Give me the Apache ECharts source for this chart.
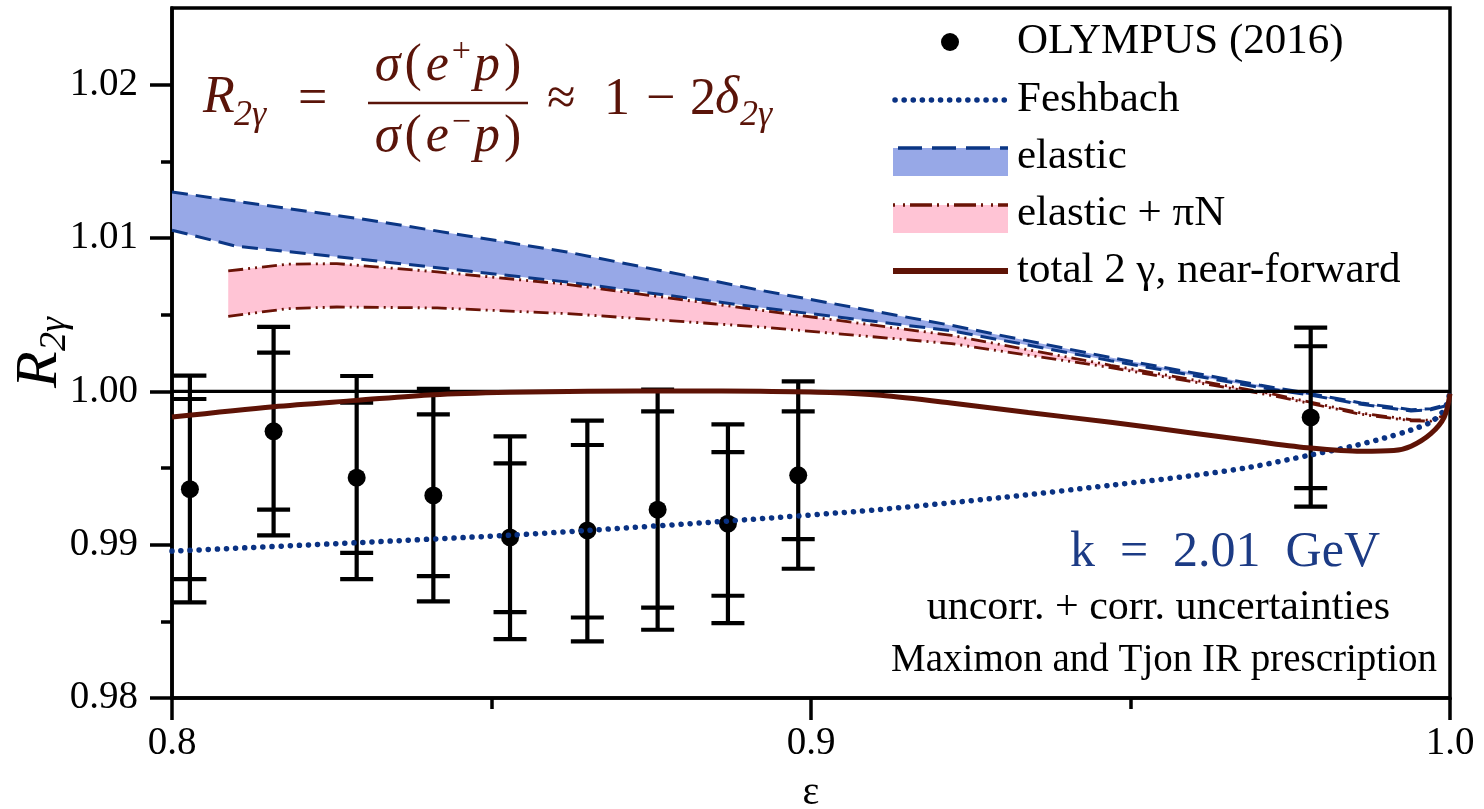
<!DOCTYPE html>
<html><head><meta charset="utf-8">
<script src="https://cdn.jsdelivr.net/npm/echarts@6/dist/echarts.min.js"></script>
<style>html,body{margin:0;padding:0;background:#fff}#c{width:1484px;height:809px}</style>
</head><body><div id="c"></div>
<script>
// ---------- data ----------
const xTicks = [0.8, 0.9, 1.0];
const yTicks = [0.98, 0.99, 1.00, 1.01, 1.02];
const yMinorTicks = [0.985, 0.995, 1.005, 1.015];
const refLevel = 1.0;

// OLYMPUS (2016) points
const olyEps     = [0.8028, 0.8159, 0.8289, 0.8409, 0.8529, 0.8650, 0.8760, 0.8870, 0.8980, 0.9782];
const olyR       = [0.99362, 0.99739, 0.99437, 0.99321, 0.99047, 0.99093, 0.99228, 0.99137, 0.99452, 0.99830];
const olyInnerLo = [0.98775, 0.99228, 0.98947, 0.98795, 0.98560, 0.98525, 0.98589, 0.98667, 0.99036, 0.99369];
const olyInnerHi = [0.99950, 1.00252, 0.99926, 0.99850, 0.99530, 0.99650, 0.99869, 0.99604, 0.99869, 1.00294];
const olyOuterLo = [0.98623, 0.99060, 0.98775, 0.98630, 0.98384, 0.98369, 0.98445, 0.98488, 0.98843, 0.99248];
const olyOuterHi = [1.00102, 1.00420, 1.00100, 1.00017, 0.99706, 0.99809, 1.00011, 0.99785, 1.00065, 1.00416];

// Feshbach
const feshEps = [0.800, 0.8289, 0.8529, 0.8650, 0.8870, 0.9109, 0.930, 0.947, 0.9600, 0.9688, 0.9782, 0.9845, 0.9897, 0.9939, 0.9970, 0.9991, 1.000];
const feshR   = [0.98958, 0.99013, 0.99062, 0.99093, 0.99154, 0.99230, 0.99308, 0.99388, 0.99452, 0.99506, 0.99585, 0.99640, 0.99695, 0.99748, 0.99800, 0.99880, 0.99995];

// elastic band
const elEps   = [0.800, 0.8101, 0.831, 0.8618, 0.8921, 0.922, 0.9469, 0.9704, 0.9782, 0.9861, 0.9939, 0.997, 0.9991, 1.000];
const elUpper = [1.01300, 1.01240, 1.01116, 1.00909, 1.00659, 1.00430, 1.00220, 1.00039, 0.99985, 0.99924, 0.99880, 0.99887, 0.99909, 0.99940];
const elLower = [1.01051, 1.00946, 1.00855, 1.00713, 1.00546, 1.00395, 1.00200, 1.00024, 0.99975, 0.99915, 0.99872, 0.99880, 0.99903, 0.99938];

// elastic + piN band
const pnEps   = [0.8088, 0.818, 0.8258, 0.8415, 0.8618, 0.8921, 0.922, 0.9469, 0.972, 0.9861, 0.9939, 0.997, 0.9991, 1.000];
const pnUpper = [1.00785, 1.00829, 1.00833, 1.00779, 1.00698, 1.00529, 1.00365, 1.00170, 0.99985, 0.99858, 0.99815, 0.99811, 0.99843, 0.99940];
const pnLower = [1.00489, 1.00539, 1.00550, 1.00544, 1.00507, 1.00420, 1.00311, 1.00155, 0.99974, 0.99850, 0.99808, 0.99806, 0.99840, 0.99938];

// total 2 gamma, near-forward
const totEps = [0.800, 0.8159, 0.8289, 0.8409, 0.8529, 0.8650, 0.8800, 0.8921, 0.9030, 0.9109, 0.9219, 0.9340, 0.9469, 0.9590, 0.9704, 0.9782, 0.9861, 0.9912, 0.9939, 0.9970, 0.9991, 1.000];
const totR   = [0.99832, 0.99900, 0.99941, 0.99978, 0.99994, 1.00000, 1.00002, 1.00000, 0.99992, 0.99974, 0.99924, 0.99862, 0.99798, 0.99732, 0.99669, 0.99630, 0.99609, 0.99614, 0.99642, 0.99724, 0.99832, 0.99985];

// ---------- style ----------
const SERIF = "'Liberation Serif','Times New Roman',serif";
const NAVY = '#0b3684';
const DOTBLUE = '#0a3283';
const DRED = '#6a1306';
const TOTRED = '#5e1306';
const BLUEFILL = '#97a8e7';
const PINKFILL = '#ffc4d5';
const FORMULA = '#5a1409';
const KBLUE = '#1c3b85';
const AXW = 3.5;

const zip = (a, b) => a.map((v, i) => [v, b[i]]);

function band(eps, lo, hi, color, z) {
  return {
    type: 'custom', z: z, silent: true, clip: true,
    data: eps.map((e, i) => [e, lo[i], hi[i]]),
    encode: { x: 0, y: [1, 2] },
    renderItem: function (params, api) {
      if (params.dataIndex !== 0) return null;
      const pts = [];
      for (let i = 0; i < eps.length; i++) pts.push(api.coord([eps[i], hi[i]]));
      for (let i = eps.length - 1; i >= 0; i--) pts.push(api.coord([eps[i], lo[i]]));
      return { type: 'polygon', shape: { points: pts }, style: { fill: color } };
    }
  };
}
function edge(eps, vals, color, dash, width, z) {
  return {
    type: 'line', z: z, silent: true, symbol: 'none', smooth: false,
    data: zip(eps, vals),
    lineStyle: { color: color, width: width, type: dash, cap: 'butt' }
  };
}

const chart = echarts.init(document.getElementById('c'), null, { renderer: 'canvas' });

function ftxt(x, y, text, opts) {
  return { type: 'text', x: x, y: y, style: Object.assign({ text: text, fontFamily: SERIF, fontSize: 52, fill: FORMULA, align: 'left', verticalAlign: 'middle' }, opts || {}) };
}
const fracRich = {
  i: { fontFamily: SERIF, fontStyle: 'italic', fontSize: 52, lineHeight: 62, fill: FORMULA, padding: [0, 2, 0, 2] },
  u: { fontFamily: SERIF, fontSize: 52, lineHeight: 62, fill: FORMULA, padding: [0, 2, 0, 2] },
  sup: { fontFamily: SERIF, fontSize: 34, lineHeight: 34, verticalAlign: 'top', fill: FORMULA, padding: [0, 1, 0, 1] }
};

const legendX0 = 893, legendX1 = 1008, legendTextX = 1017;
const rows = [42, 100, 157, 214, 271];
const legendFont = { fontFamily: SERIF, fontSize: 43, fill: '#000', verticalAlign: 'middle', align: 'left' };

const graphics = [
  // legend
  { type: 'circle', shape: { cx: 950, cy: rows[0], r: 9 }, style: { fill: '#000' } },
  { type: 'text', x: legendTextX, y: rows[0], style: Object.assign({ text: 'OLYMPUS (2016)' }, legendFont) },
  { type: 'line', shape: { x1: legendX0 + 2, y1: rows[1], x2: legendX1, y2: rows[1] }, style: { stroke: DOTBLUE, lineWidth: 5.5, lineDash: [0.1, 9], lineCap: 'round' } },
  { type: 'text', x: legendTextX, y: rows[1], style: Object.assign({ text: 'Feshbach' }, legendFont) },
  { type: 'rect', shape: { x: legendX0, y: rows[2] - 9, width: legendX1 - legendX0, height: 28 }, style: { fill: BLUEFILL } },
  { type: 'line', shape: { x1: legendX0 + 5, y1: rows[2] - 9, x2: legendX1, y2: rows[2] - 9 }, style: { stroke: NAVY, lineWidth: 3.5, lineDash: [24, 10] } },
  { type: 'text', x: legendTextX, y: rows[2], style: Object.assign({ text: 'elastic' }, legendFont) },
  { type: 'rect', shape: { x: legendX0, y: rows[3] - 9, width: legendX1 - legendX0, height: 28 }, style: { fill: PINKFILL } },
  { type: 'line', shape: { x1: legendX0, y1: rows[3] - 9, x2: legendX1, y2: rows[3] - 9 }, style: { stroke: DRED, lineWidth: 3.5, lineDash: [2, 8, 2, 5, 22, 5] } },
  { type: 'text', x: legendTextX, y: rows[3], style: Object.assign({ text: 'elastic + \u03c0N' }, legendFont) },
  { type: 'line', shape: { x1: legendX0, y1: rows[4], x2: legendX1, y2: rows[4] }, style: { stroke: TOTRED, lineWidth: 6 } },
  { type: 'text', x: legendTextX, y: rows[4], style: Object.assign({ text: 'total 2 \u03b3, near-forward' }, legendFont) },

  // formula  R_{2γ} = σ(e+p)/σ(e−p) ≈ 1 − 2δ_{2γ}
  ftxt(203, 98, 'R', { fontStyle: 'italic' }),
  ftxt(234, 116, '2\u03b3', { fontStyle: 'italic', fontSize: 36 }),
  ftxt(298, 100, '='),
  { type: 'text', x: 448, y: 66, style: { text: '{i|\u03c3}{u|(}{i|e}{sup|+}{i|p}{u|)}', rich: fracRich, align: 'center', verticalAlign: 'middle' } },
  { type: 'line', shape: { x1: 368, y1: 103, x2: 528, y2: 103 }, style: { stroke: FORMULA, lineWidth: 2.5 } },
  { type: 'text', x: 448, y: 137, style: { text: '{i|\u03c3}{u|(}{i|e}{sup|\u2212}{i|p}{u|)}', rich: fracRich, align: 'center', verticalAlign: 'middle' } },
  ftxt(547, 100, '\u2248'),
  ftxt(604, 100, '1'),
  ftxt(646, 100, '\u2212'),
  ftxt(690, 100, '2'),
  ftxt(715, 98, '\u03b4', { fontStyle: 'italic' }),
  ftxt(740, 116, '2\u03b3', { fontStyle: 'italic', fontSize: 36 }),

  // annotations
  { type: 'text', x: 1380, y: 553, style: { text: 'k\u2002=\u20022.01\u2002GeV', fontFamily: SERIF, fontSize: 50, fill: KBLUE, align: 'right', verticalAlign: 'middle' } },
  { type: 'text', x: 1390, y: 608, style: { text: 'uncorr. + corr. uncertainties', fontFamily: SERIF, fontSize: 42, fill: '#000', align: 'right', verticalAlign: 'middle' } },
  { type: 'text', x: 1437, y: 661, style: { text: 'Maximon and Tjon IR prescription', fontFamily: SERIF, fontSize: 39, fill: '#000', align: 'right', verticalAlign: 'middle' } },

  // y axis name R_{2gamma}
  { type: 'group', x: 40, y: 356, rotation: Math.PI / 2, children: [
    { type: 'text', x: -32, y: 0, style: { text: 'R', fontFamily: SERIF, fontStyle: 'italic', fontSize: 60, fill: '#000', align: 'left', verticalAlign: 'middle' } },
    { type: 'text', x: 5, y: 15, style: { text: '2\u03b3', fontFamily: SERIF, fontStyle: 'italic', fontSize: 38, fill: '#000', align: 'left', verticalAlign: 'middle' } }
  ] }
];

const option = {
  animation: false,
  backgroundColor: '#fff',
  grid: { left: 172, right: 34, top: 8, bottom: 111, containLabel: false, outerBoundsMode: 'none', show: true, borderColor: '#000', borderWidth: AXW, backgroundColor: 'transparent' },
  xAxis: {
    type: 'value', min: 0.8, max: 1.0, interval: 0.1,
    name: '\u03b5', nameLocation: 'middle', nameGap: 75,
    nameTextStyle: { fontFamily: SERIF, fontSize: 40, color: '#000' },
    axisLine: { show: true, onZero: false, lineStyle: { color: '#000', width: AXW } },
    axisTick: { show: true, length: 22, lineStyle: { color: '#000', width: AXW } },
    minorTick: { show: true, splitNumber: 2, length: 11, lineStyle: { color: '#000', width: AXW } },
    axisLabel: { fontFamily: SERIF, fontSize: 39, color: '#000', margin: 26, formatter: v => v.toFixed(1) },
    splitLine: { show: false }, minorSplitLine: { show: false }
  },
  yAxis: [{
    type: 'value', min: 0.98, max: 1.025, interval: 0.01,
    axisLine: { show: true, onZero: false, lineStyle: { color: '#000', width: AXW } },
    axisTick: { show: true, length: 22, lineStyle: { color: '#000', width: AXW }, customValues: yTicks },
    axisLabel: { fontFamily: SERIF, fontSize: 39, color: '#000', margin: 34, customValues: yTicks, formatter: v => v.toFixed(2) },
    splitLine: { show: false }
  }, {
    type: 'value', min: 0.98, max: 1.025, position: 'left', offset: 0,
    axisLine: { show: false },
    axisTick: { show: true, length: 11, lineStyle: { color: '#000', width: AXW }, customValues: yMinorTicks },
    axisLabel: { show: false },
    splitLine: { show: false }
  }],
  series: [
    band(elEps, elLower, elUpper, BLUEFILL, 1),
    band(pnEps, pnLower, pnUpper, PINKFILL, 1),
    edge(elEps, elUpper, NAVY, [16, 8], 3, 2),
    edge(elEps, elLower, NAVY, [16, 8], 3, 2),
    edge(pnEps, pnUpper, DRED, [15, 5, 2, 5, 2, 5], 2.8, 2),
    edge(pnEps, pnLower, DRED, [15, 5, 2, 5, 2, 5], 2.8, 2),
    {
      type: 'line', z: 3, silent: true, symbol: 'none',
      data: [[xTicks[0], refLevel], [xTicks[xTicks.length - 1], refLevel]],
      lineStyle: { color: '#000', width: 3.2 }
    },
    {
      type: 'custom', z: 4, silent: true,
      data: olyEps.map((e, i) => [e, olyR[i], olyInnerLo[i], olyInnerHi[i], olyOuterLo[i], olyOuterHi[i]]),
      encode: { x: 0, y: [4, 5] },
      renderItem: function (params, api) {
        const x = api.value(0);
        const pOL = api.coord([x, api.value(4)]);
        const pOH = api.coord([x, api.value(5)]);
        const caps = [pOL, pOH, api.coord([x, api.value(2)]), api.coord([x, api.value(3)])];
        const st = { stroke: '#000', lineWidth: 4.2 };
        const h = 16.5;
        return { type: 'group', children: [
          { type: 'line', shape: { x1: pOL[0], y1: pOL[1], x2: pOH[0], y2: pOH[1] }, style: st }
        ].concat(caps.map(p => ({ type: 'line', shape: { x1: p[0] - h, y1: p[1], x2: p[0] + h, y2: p[1] }, style: st }))) };
      }
    },
    {
      type: 'scatter', z: 5, silent: true, symbol: 'circle', symbolSize: 18,
      data: zip(olyEps, olyR), itemStyle: { color: '#000', opacity: 1 }
    },
    {
      type: 'line', z: 6, silent: true, symbol: 'none', smooth: 0.3,
      data: zip(feshEps, feshR),
      lineStyle: { color: DOTBLUE, width: 5.5, type: [0.1, 9], cap: 'round' }
    },
    {
      type: 'line', z: 6, silent: true, symbol: 'none', smooth: 0.3,
      data: zip(totEps, totR),
      lineStyle: { color: TOTRED, width: 5 }
    }
  ],
  graphic: graphics
};
chart.setOption(option);
</script>
</body></html>
